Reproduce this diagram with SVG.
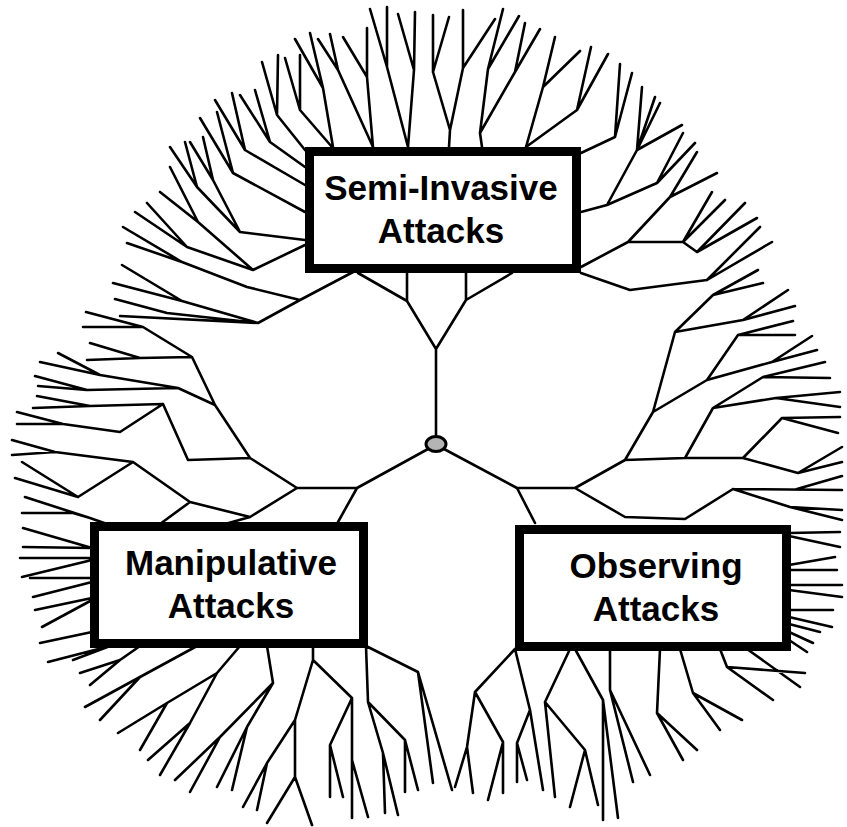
<svg xmlns="http://www.w3.org/2000/svg" width="847" height="827" viewBox="0 0 847 827">
  <style>
    .branch { fill: none; stroke: #000; stroke-width: 2.6; stroke-linejoin: round; stroke-linecap: round; }
    .box { fill: #fff; stroke: #000; stroke-width: 9; }
    .label { font-family: "Liberation Sans", Arial, sans-serif; font-weight: bold; font-size: 35px; fill: #000; text-anchor: middle; }
    .root { fill: #b4b4b4; stroke: #000; stroke-width: 3; }
  </style>
  <rect width="847" height="827" fill="#fff"/>

  <!-- branching connectors -->
  <g id="connectors">
    <!-- upper subtree -->
    <path class="branch" d="M436,437V349 M407,273L407,301L436,349L466,300L466,273 M358,273L407,301 M512,273L466,300
      M370,9L387,67L408,147 M387,7L387,67 M398,14L414,70L408,147 M415,12L414,70
      M433,15L433,72L450,130L449,147 M449,17L433,72 M463,10L463,68L450,130 M495,19L463,68
      M503,9L488,69L480,133L482,147 M519,16L488,69 M525,23L515,72L480,133 M540,29L515,72
      M555,37L543,87L526,147 M580,51L543,87 M591,47L577,110L526,147 M608,54L577,110
      M262,62L277,115L305,150 M278,55L277,115 M285,58L300,110L332,147 M300,55L300,110
      M295,39L323,88L333,147 M310,33L323,88 M318,39L338,70L373,147 M330,34L338,70
      M343,37L367,77L373,147 M367,28L367,77
      M255,90L270,142L305,167 M240,95L270,142 M232,93L245,150L305,185 M215,100L245,150
      M217,112L233,173L305,212 M200,118L233,173
      M185,142L197,187L240,232L305,240 M170,147L197,187 M203,137L213,180L240,232 M190,142L213,180
      M170,167L198,222L253,270L305,245 M160,192L198,222 M147,203L187,247L253,270 M135,212L187,247
      M355,271L300,300L258,323 M300,300L247,287L182,262L123,227 M182,262L127,243
      M258,323L182,301L113,283 M182,301L122,265 M115,299L167,313L258,323 M120,316L258,323
      M620,64L615,137L581,153 M632,73L615,137
      M642,87L637,150L607,205L581,212 M655,97L637,150 M660,103L637,150 M682,125L637,150
      M683,133L657,183L607,205 M695,143L657,183
      M697,152L670,197L628,242L581,267 M717,173L670,197
      M628,242L683,242L712,192 M683,242L725,200 M683,242L697,252L745,203 M697,252L757,218
      M581,273L630,290L707,280L760,227 M707,280L772,242"/>

    <!-- lower-left subtree -->
    <path class="branch" d="M428,449L357,488L297,488 M357,488L338,522 M250,458L297,488L250,517
      M188,460L250,458L215,405L192,357L143,327L86,312 M143,327L83,327
      M192,357L140,358L90,343 M140,358L87,360
      M215,405L178,388L100,375L58,353 M100,375L40,362 M178,388L87,390L35,376 M87,390L38,386
      M188,460L163,404L90,406L37,396 M90,406L33,408
      M163,404L120,432L63,424L17,412 M63,424L17,424
      M250,517L190,502L133,462L55,452L12,440 M55,452L12,455
      M133,462L78,497L22,462 M78,497L15,478
      M190,502L160,524 M250,517L225,524
      M25,497L90,518L107,524 M22,513L73,513L90,518
      M23,528L92,548 M23,547L92,548 M20,558L92,558 M22,577L92,560 M30,578L92,578
      M33,597L92,582 M35,610L92,598 M42,627L92,600 M40,643L92,632
      M48,662L110,646 M73,660L110,646
      M80,673L120,660L140,646 M90,685L120,660
      M85,707L140,677L197,646 M100,720L140,677
      M240,646L217,673L167,703L118,733 M167,703L140,750
      M217,673L190,723L160,775 M190,723L148,760
      M267,646L273,683L220,737L175,780 M220,737L190,792
      M273,683L247,727L217,787 M247,727L232,790
      M313,646L313,660L295,720L267,763L243,807 M267,763L257,810
      M295,720L295,777L267,823 M295,777L312,825
      M313,660L352,698L352,760L352,818 M352,760L368,817
      M352,698L330,745L330,797 M330,745L343,797
      M366,646L368,702L405,740L405,792 M405,740L418,790
      M368,702L383,753L398,815 M383,753L385,813
      M366,646L418,672L433,783 M418,672L452,790"/>

    <!-- lower-right subtree -->
    <path class="branch" d="M444,449L517,488L575,488 M517,488L535,523
      M575,488L625,460L685,458L743,458
      M575,488L625,517L685,519L733,489L842,490 M733,489L790,507L842,510 M790,507L842,520 M797,489L842,476
      M625,460L653,412L675,332L713,295L740,280L758,270 M713,295L763,283
      M675,332L743,320L788,290 M743,320L795,306
      M653,412L707,380L738,335L793,321 M738,335L795,335
      M707,380L772,362L812,336 M772,362L817,350
      M685,458L713,408L763,377L825,362 M763,377L830,378
      M713,408L776,398L840,392 M776,398L840,407
      M743,458L782,418L840,417 M782,418L838,433
      M743,458L798,473L842,447 M798,473L842,462
      M789,533L840,532 M789,536L840,547 M789,565L835,557 M789,570L837,570
      M789,585L842,585 M789,590L842,597 M789,610L833,610 M789,617L832,627
      M789,624L820,632 M789,632L813,643 M789,640L807,652
      M515,649L475,692L467,747L455,787 M467,747L473,793
      M475,692L503,742L488,800 M503,742L503,793
      M515,649L530,710L517,743L517,782 M517,743L527,780 M530,710L543,790
      M570,649L545,702L555,797 M545,702L585,750L570,807 M585,750L598,805
      M575,649L603,700L603,820 M603,700L618,818
      M610,649L610,690L633,782 M610,690L650,775
      M660,649L657,713L697,750 M657,713L683,760
      M680,649L693,693L720,730 M693,693L742,720
      M720,649L727,667L805,673 M727,667L773,700
      M747,649L800,687"/>
  </g>

  <g id="node-root">
    <ellipse class="root" cx="436" cy="444" rx="10" ry="7.5"/>
  </g>

  <g id="node-semi-invasive">
    <rect class="box" x="309.5" y="151.5" width="267" height="117"/>
    <text class="label" x="441" y="200">Semi-Invasive</text>
    <text class="label" x="441" y="243">Attacks</text>
  </g>

  <g id="node-manipulative">
    <rect class="box" x="94.5" y="526.5" width="269" height="117"/>
    <text class="label" x="231" y="575">Manipulative</text>
    <text class="label" x="231" y="618">Attacks</text>
  </g>

  <g id="node-observing">
    <rect class="box" x="519.5" y="529.5" width="267" height="117"/>
    <text class="label" x="656" y="578">Observing</text>
    <text class="label" x="656" y="621">Attacks</text>
  </g>
</svg>
